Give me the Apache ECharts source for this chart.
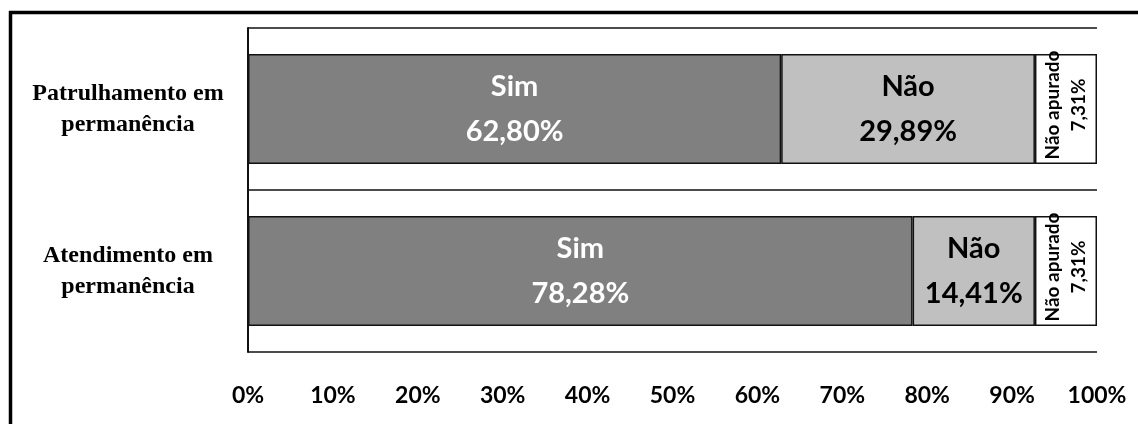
<!DOCTYPE html>
<html>
<head>
<meta charset="utf-8">
<script src="https://cdn.jsdelivr.net/npm/echarts@6/dist/echarts.min.js"></script>
<style>
  html, body { margin: 0; padding: 0; background: #fff; }
  #chart { width: 1138px; height: 424px; }
</style>
</head>
<body>
<div id="chart"></div>
<script>
const categories = ["Patrulhamento em\npermanência", "Atendimento em\npermanência"];
const seriesNames = ["Sim", "Não", "Não apurado"];
const sim = [62.80, 78.28];
const nao = [29.89, 14.41];
const naoApurado = [7.31, 7.31];
const xTicks = [0, 10, 20, 30, 40, 50, 60, 70, 80, 90, 100];

const chart = echarts.init(document.getElementById("chart"));

function pct(v) {
  return v.toFixed(2).replace(".", ",") + "%";
}

const barBorder = { borderColor: "#111", borderWidth: 1.5 };

const option = {
  animation: false,
  backgroundColor: "#fff",
  grid: { left: 248, right: 41, top: 28, bottom: 72 },
  graphic: [
    { type: "line", shape: { x1: 9, y1: 12.5, x2: 1138, y2: 12.5 }, style: { stroke: "#000", lineWidth: 3.5 } },
    { type: "line", shape: { x1: 10.5, y1: 11, x2: 10.5, y2: 424 }, style: { stroke: "#000", lineWidth: 3.5 } }
  ],
  xAxis: {
    type: "value",
    min: 0,
    max: 100,
    interval: 10,
    axisLine: { show: false },
    axisTick: { show: false },
    splitLine: { show: false },
    axisLabel: {
      margin: 32,
      formatter: v => xTicks.includes(v) ? v + "%" : "",
      fontFamily: "Lato",
      fontWeight: "bold",
      fontSize: 23,
      color: "#000"
    }
  },
  yAxis: {
    type: "category",
    data: categories,
    inverse: true,
    axisLine: { show: true, lineStyle: { color: "#111", width: 2 } },
    axisTick: { show: false },
    splitLine: { show: true, lineStyle: { color: "#111", width: 1.5 } },
    axisLabel: {
      margin: 120,
      align: "center",
      fontFamily: "Liberation Serif",
      fontWeight: "bold",
      fontSize: 24,
      lineHeight: 31,
      color: "#000"
    }
  },
  series: [
    {
      name: seriesNames[0],
      type: "bar",
      stack: "total",
      barWidth: "68%",
      data: sim,
      itemStyle: Object.assign({ color: "#808080" }, barBorder),
      label: {
        show: true,
        position: "inside",
        formatter: p => p.seriesName + "\n" + pct(p.value),
        fontFamily: "Lato",
        fontWeight: "bold",
        fontSize: 29,
        lineHeight: 45,
        color: "#fff"
      }
    },
    {
      name: seriesNames[1],
      type: "bar",
      stack: "total",
      data: nao,
      itemStyle: Object.assign({ color: "#c0c0c0" }, barBorder),
      label: {
        show: true,
        position: "inside",
        formatter: p => p.seriesName + "\n" + pct(p.value),
        fontFamily: "Lato",
        fontWeight: "bold",
        fontSize: 29,
        lineHeight: 45,
        color: "#000"
      }
    },
    {
      name: seriesNames[2],
      type: "bar",
      stack: "total",
      data: naoApurado,
      itemStyle: Object.assign({ color: "#fff" }, barBorder),
      label: {
        show: true,
        position: "inside",
        rotate: 90,
        offset: [4, 0],
        formatter: p => p.seriesName + "\n" + pct(p.value),
        fontFamily: "Lato",
        fontWeight: "bold",
        fontSize: 19,
        lineHeight: 26,
        color: "#000"
      }
    }
  ]
};

chart.setOption(option);
</script>
</body>
</html>
